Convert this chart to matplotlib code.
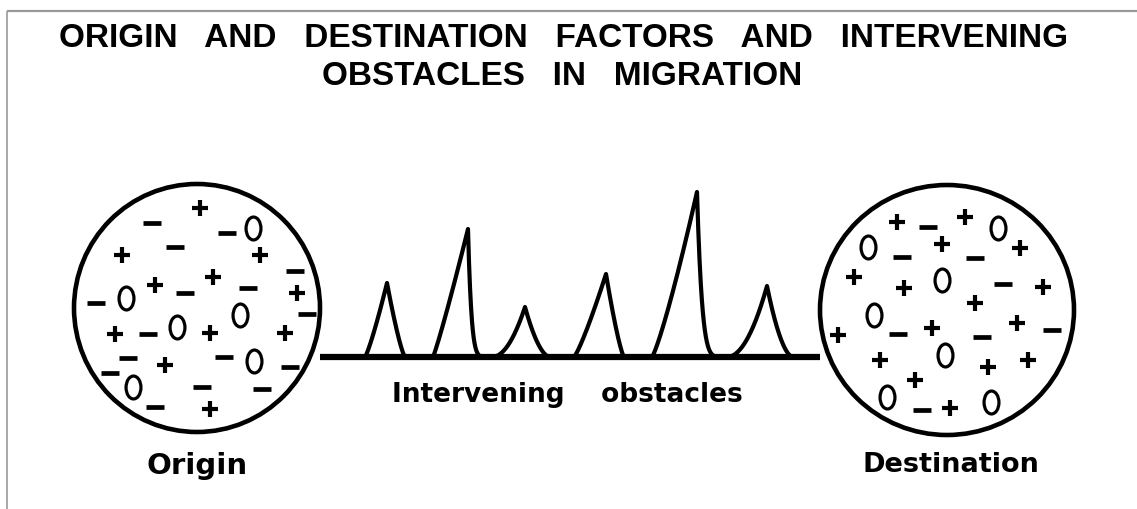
import numpy as np
import matplotlib
matplotlib.use("Agg")
import matplotlib.pyplot as plt
from matplotlib.patches import Ellipse
from matplotlib.path import Path
from matplotlib.transforms import Affine2D

# ---------------- data ----------------
title_lines = ["ORIGIN   AND   DESTINATION   FACTORS   AND   INTERVENING",
               "OBSTACLES   IN   MIGRATION"]
place_labels = ["Origin", "Destination"]
obstacle_label = "Intervening    obstacles"

# factor symbols inside the Origin circle: kind, x, y
origin_kind = ['-', '+', '-', 'o', '+', '-', '+', '-', '+', '+', '-', '-', '+', '-', 'o', '-', 'o',
               '+', '-', 'o', '+', '+', '-', '+', '-', 'o', '-', '-', 'o', '-', '-', '-', '+']
origin_x = [152, 200, 227, 253, 122, 175, 260, 295, 213, 155, 185, 248, 297, 96, 126, 307, 240,
            115, 148, 177, 210, 285, 128, 165, 224, 254, 290, 110, 133, 202, 262, 155, 210]
origin_y = [223, 208, 233, 228, 255, 247, 255, 271, 277, 285, 293, 288, 293, 303, 298, 314, 315,
            334, 334, 327, 333, 333, 358, 365, 357, 361, 367, 373, 387, 387, 389, 407, 409]

# factor symbols inside the Destination circle
dest_kind = ['+', '-', '+', 'o', 'o', '-', '+', '-', '+', '+', '+', 'o', '-', '+', '+', 'o',
             '+', '-', '+', '-', '+', '-', '+', 'o', '+', '+', '+', 'o', '-', '+', 'o']
dest_x = [897, 928, 965, 998, 868, 902, 942, 975, 1020, 854, 904, 942, 1003, 1043, 975, 874,
          838, 898, 932, 982, 1017, 1052, 880, 945, 988, 1028, 915, 887, 922, 950, 991]
dest_y = [222, 227, 217, 228, 247, 257, 244, 258, 248, 277, 288, 280, 284, 287, 303, 315,
          335, 334, 328, 337, 323, 330, 360, 355, 367, 360, 380, 397, 410, 408, 402]

# intervening obstacles: left foot, peak x, peak top, right foot, side curvature
obst_left = [365, 433, 492, 574, 652, 727]
obst_peak_x = [387, 468, 525, 606, 697, 767]
obst_peak_y = [283, 229, 307, 274, 192, 286]
obst_right = [405, 492, 550, 624, 727, 793]
obst_curv_left = [1.2, 1.1, 2.0, 1.2, 1.2, 2.0]
obst_curv_right = [1.3, 7.0, 1.8, 1.3, 6.0, 1.8]

# ---------------- layout ----------------
W, H = 1137, 509
origin_c = (197, 308); origin_r = (123, 124)
dest_c = (947, 310); dest_r = (127, 125)
base_y = 357

fig = plt.figure(figsize=(W / 100, H / 100), dpi=100)
ax = fig.add_axes([0, 0, 1, 1])
ax.set_xlim(0, W)
ax.set_ylim(H, 0)
ax.axis("off")

# frame lines (grey)
ax.plot([7, W], [11, 11], color="#9a9a9a", lw=1.6, solid_capstyle="butt")
ax.plot([7, 7], [11, H], color="#9a9a9a", lw=1.2, solid_capstyle="butt")

# title
tfont = dict(family=["Liberation Sans", "DejaVu Sans"], fontsize=24, fontweight="bold",
             color="black", ha="center", va="center")
ax.text(564, 38, title_lines[0], **tfont)
ax.text(562, 76, title_lines[1], **tfont)

# circles
for (c, r) in [(origin_c, origin_r), (dest_c, dest_r)]:
    ax.add_patch(Ellipse(c, 2 * r[0], 2 * r[1], fill=False, ec="black", lw=3.3))

# baseline
ax.plot([origin_c[0] + origin_r[0], dest_c[0] - dest_r[0]], [base_y, base_y],
        color="black", lw=4.5, solid_capstyle="butt")

# obstacles
for L, px, py, R, cl, cr in zip(obst_left, obst_peak_x, obst_peak_y, obst_right,
                                obst_curv_left, obst_curv_right):
    h = base_y - py
    xl = np.linspace(L, px, 80)
    ul = (xl - L) / (px - L)
    yl = base_y - h * ul ** cl
    xr = np.linspace(px, R, 120)
    ur = (xr - px) / (R - px)
    yr = base_y - h * (1 - ur) ** cr
    ax.plot(np.r_[xl, xr], np.r_[yl, yr], color="black", lw=3.0,
            solid_joinstyle="round", solid_capstyle="round")

# factor symbols
oval = Path.unit_circle().transformed(Affine2D().scale(0.65, 1.0))
def draw_symbols(kinds, xs, ys):
    kinds = np.array(kinds); xs = np.array(xs); ys = np.array(ys)
    m = kinds == '+'
    ax.plot(xs[m], ys[m], ls="none", marker="+", ms=11.5, mew=3.0, color="black")
    m = kinds == '-'
    ax.plot(xs[m], ys[m], ls="none", marker="_", ms=12.5, mew=3.4, color="black")
    m = kinds == 'o'
    ax.plot(xs[m], ys[m], ls="none", marker=oval, ms=16.5, mew=2.3,
            mfc="none", mec="black")

draw_symbols(origin_kind, origin_x, origin_y)
draw_symbols(dest_kind, dest_x, dest_y)

# labels
lfont = dict(family=["DejaVu Sans"], fontweight="bold", color="black", ha="center", va="center")
ax.text(197, 466, place_labels[0], fontsize=21, **lfont)
ax.text(951, 465, place_labels[1], fontsize=19.5, **lfont)
ax.text(567, 395, obstacle_label, fontsize=19, **lfont)

fig.savefig("out.png", dpi=100)
